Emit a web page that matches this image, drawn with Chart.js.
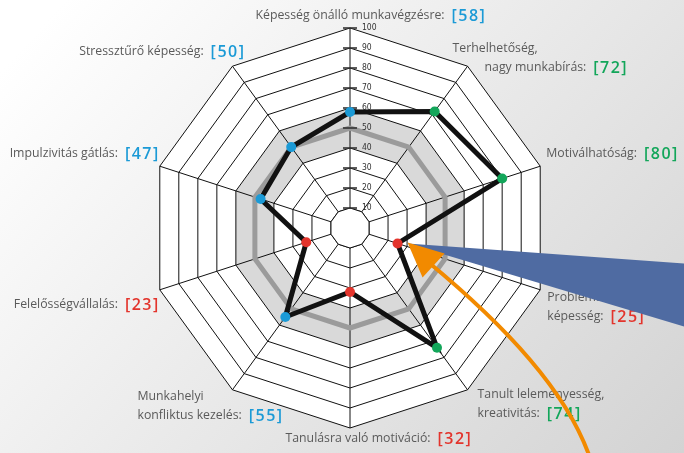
<!DOCTYPE html>
<html lang="hu">
<head>
<meta charset="UTF-8">
<title>Kompetencia profil</title>
<script src="https://cdn.jsdelivr.net/npm/chart.js"></script>
<style>
  html, body { margin: 0; padding: 0; }
  #wrap { width: 684px; height: 453px; position: relative; }
</style>
</head>
<body>
<div id="wrap"><canvas id="radar"></canvas></div>
<script>
// adatok
const categories = [
  ['Képesség önálló munkavégzésre:'],
  ['Terhelhetőség,', 'nagy munkabírás:'],
  ['Motiválhatóság:'],
  ['Problémamegoldó', 'képesség:'],
  ['Tanult leleményesség,', 'kreativitás:'],
  ['Tanulásra való motiváció:'],
  ['Munkahelyi', 'konfliktus kezelés:'],
  ['Felelősségvállalás:'],
  ['Impulzivitás gátlás:'],
  ['Stressztűrő képesség:']
];
const scores   = [58, 72, 80, 25, 74, 32, 55, 23, 47, 50];
const average  = [50, 50, 50, 50, 50, 50, 50, 50, 50, 50];
const bandHigh = [60, 60, 60, 60, 60, 60, 60, 60, 60, 60];
const bandLow  = [40, 40, 40, 40, 40, 40, 40, 40, 40, 40];
const tickValues = [10, 20, 30, 40, 50, 60, 70, 80, 90, 100];

const BLUE = '#1b9ad6', GREEN = '#13a65a', RED = '#e3342c';
function scoreColor(v) {
  if (v < 40) return RED;
  if (v > 60) return GREEN;
  return BLUE;
}

// felirat elhelyezés a csúcsokhoz képest (align, dx, dy, sorok behúzása)
const labelLayout = [
  { align: 'center', dx: 0,   dy: -13 },
  { align: 'left',   dx: -15, dy: -18, indent: [0, 32] },
  { align: 'left',   dx: 6,   dy: -13 },
  { align: 'left',   dx: 7,   dy: 8 },
  { align: 'left',   dx: 10,  dy: 5 },
  { align: 'center', dx: 8,   dy: 10 },
  { align: 'left',   dx: -95, dy: 7 },
  { align: 'right',  dx: 0,   dy: 15 },
  { align: 'right',  dx: 0,   dy: -13 },
  { align: 'right',  dx: 13,  dy: -15 }
];
const LINE_H = 19;
const TEXT_FONT = '12.3px "Open Sans"';
const VALUE_FONT = '600 16px "Open Sans"';

function polygon(ctx, scale, value) {
  ctx.beginPath();
  for (let i = 0; i < categories.length; i++) {
    const p = scale.getPointPositionForValue(i, value);
    if (i === 0) ctx.moveTo(p.x, p.y); else ctx.lineTo(p.x, p.y);
  }
  ctx.closePath();
}

const decorPlugin = {
  id: 'decor',
  beforeDraw(chart) {
    const ctx = chart.ctx, scale = chart.scales.r;
    ctx.save();
    const g = ctx.createLinearGradient(120, -60, 684, 453);
    g.addColorStop(0, '#ffffff');
    g.addColorStop(1, '#d3d3d3');
    ctx.fillStyle = g;
    ctx.fillRect(0, 0, chart.width, chart.height);
    polygon(ctx, scale, 100);
    ctx.fillStyle = '#ffffff';
    ctx.fill();
    ctx.restore();
  },
  beforeDatasetsDraw(chart) {
    const ctx = chart.ctx, scale = chart.scales.r;
    ctx.save();
    // üres közép
    polygon(ctx, scale, 10);
    ctx.fillStyle = '#ffffff';
    ctx.fill();
    ctx.strokeStyle = '#111';
    ctx.lineWidth = 1;
    ctx.stroke();
    ctx.restore();
  },
  afterDatasetDraw(chart, args) {
    if (args.index !== 1) return;
    const ctx = chart.ctx, scale = chart.scales.r;
    ctx.save();
    ctx.strokeStyle = '#333';
    ctx.lineWidth = 1.6;
    ctx.fillStyle = '#333';
    ctx.font = '8.5px "DejaVu Sans Condensed", "DejaVu Sans"';
    ctx.textAlign = 'left';
    ctx.textBaseline = 'middle';
    tickValues.forEach(v => {
      const p = scale.getPointPositionForValue(0, v);
      ctx.beginPath();
      ctx.moveTo(p.x - 7, p.y);
      ctx.lineTo(p.x + 7, p.y);
      ctx.stroke();
      ctx.fillText(String(v), p.x + 12, p.y);
    });
    ctx.restore();
  },
  afterDraw(chart) {
    const ctx = chart.ctx, scale = chart.scales.r;
    ctx.save();
    // kategória feliratok
    ctx.textBaseline = 'middle';
    categories.forEach((lines, i) => {
      const L = labelLayout[i];
      const p = scale.getPointPositionForValue(i, 100);
      const x = p.x + L.dx, y = p.y + L.dy;
      const val = '[' + scores[i] + ']';
      ctx.font = VALUE_FONT;
      ctx.letterSpacing = '1.5px';
      const valW = ctx.measureText(val).width;
      ctx.letterSpacing = '0px';
      ctx.font = TEXT_FONT;
      const last = lines.length - 1;
      const lastW = ctx.measureText(lines[last]).width;
      const gap = 7;
      let valX;
      lines.forEach((t, j) => {
        const ly = y + j * LINE_H;
        const ind = L.indent ? L.indent[j] : 0;
        ctx.font = TEXT_FONT;
        ctx.fillStyle = '#5a5a5a';
        if (L.align === 'left') {
          ctx.textAlign = 'left';
          ctx.fillText(t, x + ind, ly);
          if (j === last) valX = x + ind + lastW + gap;
        } else if (L.align === 'center') {
          ctx.textAlign = 'center';
          ctx.fillText(t, x, ly);
          if (j === last) valX = x + lastW / 2 + gap;
        } else {
          ctx.textAlign = 'right';
          ctx.fillText(t, x - valW - gap, ly);
          if (j === last) valX = x - valW;
        }
      });
      ctx.font = VALUE_FONT;
      ctx.letterSpacing = '1.5px';
      ctx.textAlign = 'left';
      ctx.fillStyle = scoreColor(scores[i]);
      ctx.fillText(val, valX, y + last * LINE_H + 1);
      ctx.letterSpacing = '0px';
    });

    // kiemelés a leggyengébb pontra
    const pt = scale.getPointPositionForValue(3, scores[3]);
    const tip = { x: pt.x + 10, y: pt.y };
    ctx.fillStyle = '#4f6ba2';
    ctx.beginPath();
    ctx.moveTo(tip.x, tip.y);
    ctx.lineTo(chart.width, tip.y + 20);
    ctx.lineTo(chart.width, tip.y + 83);
    ctx.closePath();
    ctx.fill();

    ctx.strokeStyle = '#f28a00';
    ctx.fillStyle = '#f28a00';
    ctx.lineWidth = 4;
    ctx.beginPath();
    ctx.moveTo(595, 475);
    ctx.bezierCurveTo(576, 395, 496, 318, tip.x + 20, tip.y + 18);
    ctx.stroke();
    ctx.beginPath();
    ctx.moveTo(tip.x, tip.y - 1);
    ctx.lineTo(tip.x + 37, tip.y + 10);
    ctx.lineTo(tip.x + 15, tip.y + 34);
    ctx.closePath();
    ctx.fill();
    ctx.restore();
  }
};

const chart = new Chart(document.getElementById('radar'), {
  type: 'radar',
  data: {
    labels: categories,
    datasets: [
      {
        label: 'Eredmény',
        data: scores,
        order: 0,
        borderColor: '#111',
        borderWidth: 5,
        fill: false,
        pointRadius: 5,
        pointBorderWidth: 0,
        pointBackgroundColor: scores.map(scoreColor),
        pointBorderColor: scores.map(scoreColor)
      },
      {
        label: 'Átlag',
        data: average,
        order: 1,
        borderColor: '#9b9b9b',
        borderWidth: 5,
        borderJoinStyle: 'round',
        fill: false,
        pointRadius: 0
      },
      {
        label: 'Sáv felső',
        data: bandHigh,
        order: 2,
        borderWidth: 0,
        borderColor: 'rgba(0,0,0,0)',
        backgroundColor: 'rgba(0,0,0,0.15)',
        fill: '+1',
        pointRadius: 0
      },
      {
        label: 'Sáv alsó',
        data: bandLow,
        order: 3,
        borderWidth: 0,
        borderColor: 'rgba(0,0,0,0)',
        fill: false,
        pointRadius: 0
      }
    ]
  },
  options: {
    responsive: true,
    maintainAspectRatio: false,
    animation: false,
    layout: { padding: { top: 28, bottom: 25, left: 150, right: 134 } },
    scales: {
      r: {
        min: 0,
        max: 100,
        ticks: { display: false, stepSize: 10 },
        grid: { color: '#111', lineWidth: 1, circular: false },
        angleLines: { color: '#111', lineWidth: 1 },
        pointLabels: { display: false }
      }
    },
    plugins: {
      legend: { display: false },
      tooltip: { enabled: false }
    }
  },
  plugins: [decorPlugin]
});
</script>
</body>
</html>
